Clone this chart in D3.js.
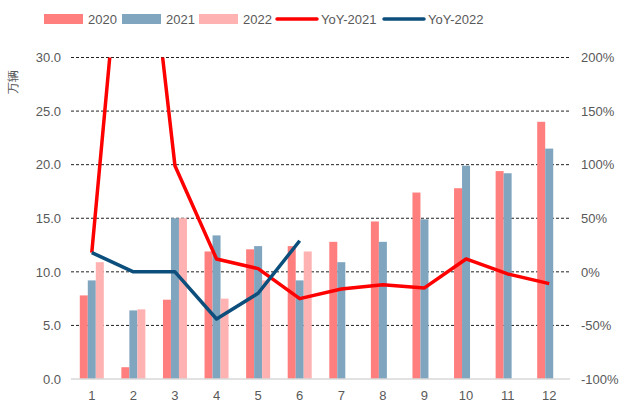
<!DOCTYPE html>
<html>
<head>
<meta charset="utf-8">
<script src="https://cdn.jsdelivr.net/npm/d3@7"></script>
<style>
  body { margin: 0; background: #fff; }
  text { font-family: "Liberation Sans", Arial, sans-serif; fill: #595959; }
</style>
</head>
<body>
<div id="container"></div>
<script>
// chart size
var width = 623,
height = 407;

// data
var months = ['1', '2', '3', '4', '5', '6', '7', '8', '9', '10', '11', '12'];
var sales2020 = [7.8, 1.1, 7.4, 11.9, 12.1, 12.4, 12.8, 14.7, 17.4, 17.8, 19.4, 24.0];
var sales2021 = [9.2, 6.4, 15.0, 13.4, 12.4, 9.2, 10.9, 12.8, 14.9, 19.9, 19.2, 21.5];
var sales2022 = [10.9, 6.5, 15.0, 7.5, 9.2, 11.9];
var yoy2021 = [18, 440, 99, 12, 3, -25, -16, -12, -15, 12, -2, -11];
var yoy2022 = [18, 0, 0, -44, -20, 29];
var leftTicks = [0, 5, 10, 15, 20, 25, 30];
var rightTicks = [-100, -50, 0, 50, 100, 150, 200];

var barSeries = [
  {name: '2020', values: sales2020, colour: '#ff7f7f'},
  {name: '2021', values: sales2021, colour: '#7fa5bf'},
  {name: '2022', values: sales2022, colour: '#ffb2b2'}
];
var lineSeries = [
  {name: 'YoY-2021', values: yoy2021, colour: '#ff0000'},
  {name: 'YoY-2022', values: yoy2022, colour: '#0c4f7c'}
];

var plot = {left: 71, right: 570, top: 57.5, bottom: 379};

var svg = d3.select('#container').append('svg').attr('width', width).attr('height', height);

var x = d3.scaleBand().domain(months).range([plot.left, plot.right]);
var xInner = d3.scaleBand().domain(barSeries.map(s => s.name)).range([-12, 12]);
var y = d3.scaleLinear().domain([0, 30]).range([plot.bottom, plot.top]);
var y2 = d3.scaleLinear().domain([-100, 200]).range([plot.bottom, plot.top]);

// dashed grid lines
svg.append('g').
selectAll('line').
data(leftTicks.slice(1)).
enter().
append('line').
attr('x1', plot.left).
attr('x2', plot.right).
attr('y1', d => y(d)).
attr('y2', d => y(d)).
attr('stroke', '#222').
attr('stroke-width', 1).
attr('stroke-dasharray', '3,2');

// bars
barSeries.forEach(function (s) {
  svg.append('g').
  selectAll('rect').
  data(s.values).
  enter().
  append('rect').
  attr('x', (d, i) => x(months[i]) + x.bandwidth() / 2 + xInner(s.name)).
  attr('y', d => y(d)).
  attr('width', xInner.bandwidth()).
  attr('height', d => y(0) - y(d)).
  attr('fill', s.colour);
});

// bottom axis line
svg.append('line').
attr('x1', plot.left).
attr('x2', plot.right).
attr('y1', y(0)).
attr('y2', y(0)).
attr('stroke', '#d9d9d9').
attr('stroke-width', 1.5);

// YoY lines, clipped to the plot area
svg.append('clipPath').attr('id', 'clip').
append('rect').
attr('x', 0).
attr('y', plot.top).
attr('width', width).
attr('height', plot.bottom - plot.top + 20);

var line = d3.line().
x((d, i) => x(months[i]) + x.bandwidth() / 2).
y(d => y2(d));

lineSeries.forEach(function (s) {
  svg.append('path').
  datum(s.values).
  attr('clip-path', 'url(#clip)').
  attr('fill', 'none').
  attr('stroke', s.colour).
  attr('stroke-width', 3.5).
  attr('stroke-linejoin', 'round').
  attr('d', line);
});

// left axis labels
var leftAxis = d3.axisLeft(y).tickValues(leftTicks).tickFormat(d3.format('.1f')).tickSize(0).tickPadding(10);
svg.append('g').
attr('transform', 'translate(' + plot.left + ',0)').
call(leftAxis).
call(g => g.select('.domain').remove()).
call(g => g.selectAll('text').attr('font-size', 13).attr('font-family', null).attr('fill', '#595959'));

// right axis labels
var rightAxis = d3.axisRight(y2).tickValues(rightTicks).tickFormat(d => d + '%').tickSize(0).tickPadding(11);
svg.append('g').
attr('transform', 'translate(' + plot.right + ',0)').
call(rightAxis).
call(g => g.select('.domain').remove()).
call(g => g.selectAll('text').attr('font-size', 13).attr('font-family', null).attr('fill', '#595959'));

// month labels
var bottomAxis = d3.axisBottom(x).tickSize(0).tickPadding(12);
svg.append('g').
attr('transform', 'translate(0,' + plot.bottom + ')').
call(bottomAxis).
call(g => g.select('.domain').remove()).
call(g => g.selectAll('text').attr('font-size', 13).attr('font-family', null).attr('fill', '#595959'));

// unit title
svg.append('text').
attr('transform', 'translate(17,82) rotate(-90)').
attr('text-anchor', 'middle').
attr('font-size', 12).
text('万辆');

// legend
var legendX = [44, 122, 199, 277, 384];
var legendItems = barSeries.concat(lineSeries);
var legend = svg.append('g').attr('id', 'legend');
legendItems.forEach(function (s, i) {
  var g = legend.append('g').attr('transform', 'translate(' + legendX[i] + ',19)');
  if (i < 3) {
    g.append('rect').attr('x', 0).attr('y', -5).attr('width', 39).attr('height', 10).attr('fill', s.colour);
  } else {
    g.append('line').attr('x1', 0).attr('x2', 40).attr('y1', 0).attr('y2', 0).
    attr('stroke', s.colour).attr('stroke-width', 3.5).attr('stroke-linecap', 'round');
  }
  g.append('text').
  attr('x', i < 3 ? 44 : 44).
  attr('y', 4.5).
  attr('font-size', 13).
  text(s.name);
});
</script>
</body>
</html>
